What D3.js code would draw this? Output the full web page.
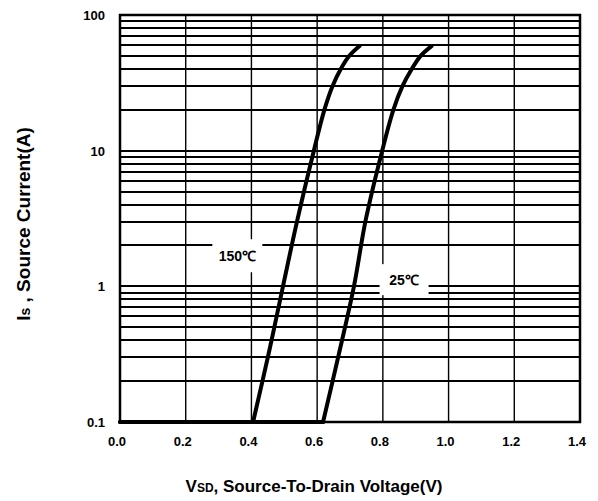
<!DOCTYPE html>
<html>
<head>
<meta charset="utf-8">
<script src="https://cdn.jsdelivr.net/npm/d3@7"></script>
<style>
  body { margin: 0; background: #fff; }
  text { font-family: Arial, "Liberation Sans", sans-serif; font-weight: bold; fill: #000; }
</style>
</head>
<body>
<div id="chart"></div>
<script>
// data
var xTicks = [0.0, 0.2, 0.4, 0.6, 0.8, 1.0, 1.2, 1.4];
var yTicks = [0.1, 1, 10, 100];

var v150 = [0.0, 0.405, 0.452, 0.496, 0.540, 0.590, 0.622, 0.647, 0.672, 0.698, 0.729];
var i150 = [0.1, 0.1, 0.316, 1, 3.1, 10, 20, 30, 40, 50, 59];

var v25 = [0.0, 0.618, 0.666, 0.712, 0.748, 0.798, 0.832, 0.860, 0.888, 0.915, 0.948];
var i25 = [0.1, 0.1, 0.316, 1, 3.1, 10, 20, 30, 40, 50, 59];

var svgWidth = 598;
var svgHeight = 501;

var margin = {
  top: 15,
  right: 18,
  bottom: 79,
  left: 120
};

var width = svgWidth - margin.left - margin.right;
var height = svgHeight - margin.top - margin.bottom;

var svg = d3
  .select("#chart")
  .append("svg")
  .attr("width", svgWidth)
  .attr("height", svgHeight);

var chartGroup = svg
  .append("g")
  .attr("transform", `translate(${margin.left}, ${margin.top})`);

// scales
var xLinearScale = d3.scaleLinear()
  .domain([0, 1.4])
  .range([0, width]);

var yLogScale = d3.scaleLog()
  .domain([0.1, 100])
  .range([height, 0]);

// horizontal grid (1..9 in each decade)
chartGroup.append("g")
  .selectAll("line")
  .data(yLogScale.ticks().filter(d => d > 0.1 && d < 100))
  .enter()
  .append("line")
  .attr("x1", 0)
  .attr("x2", width)
  .attr("y1", d => Math.round(yLogScale(d)))
  .attr("y2", d => Math.round(yLogScale(d)))
  .attr("stroke", "#000")
  .attr("stroke-width", 2);

// vertical grid
chartGroup.append("g")
  .selectAll("line")
  .data(xTicks.filter(d => d > 0 && d < 1.4))
  .enter()
  .append("line")
  .attr("x1", d => xLinearScale(d))
  .attr("x2", d => xLinearScale(d))
  .attr("y1", 0)
  .attr("y2", height)
  .attr("stroke", "#000")
  .attr("stroke-width", 1.4);

// frame
chartGroup.append("rect")
  .attr("width", width)
  .attr("height", height)
  .attr("fill", "none")
  .attr("stroke", "#000")
  .attr("stroke-width", 2.5);

// tick labels
chartGroup.append("g")
  .selectAll("text")
  .data(xTicks)
  .enter()
  .append("text")
  .attr("x", d => xLinearScale(d) - 3)
  .attr("y", height + 24)
  .attr("text-anchor", "middle")
  .attr("font-size", "13px")
  .text(d => d3.format(".1f")(d));

chartGroup.append("g")
  .selectAll("text")
  .data(yTicks)
  .enter()
  .append("text")
  .attr("x", -15)
  .attr("y", d => yLogScale(d) + 5)
  .attr("text-anchor", "end")
  .attr("font-size", "13px")
  .text(d => d);

// temperature labels on white boxes
function curveLabel(xv, yv, w, h, label) {
  var g = chartGroup.append("g")
    .attr("transform", `translate(${xLinearScale(xv)}, ${yLogScale(yv)})`);
  g.append("rect")
    .attr("x", 0)
    .attr("y", -h / 2)
    .attr("width", w)
    .attr("height", h)
    .attr("fill", "#fff");
  g.append("text")
    .attr("x", w / 2)
    .attr("y", 5)
    .attr("text-anchor", "middle")
    .attr("font-size", "14px")
    .text(label);
}
curveLabel(0.281, 1.68, 50, 33, "150\u2103");
curveLabel(0.790, 1.12, 49, 31, "25\u2103");

// curves: flat part at 0.1 A, then a smooth rise
var flatLine = d3.line()
  .x(d => xLinearScale(d[0]))
  .y(d => yLogScale(d[1]));

var riseLine = d3.line()
  .x(d => xLinearScale(d[0]))
  .y(d => yLogScale(d[1]))
  .curve(d3.curveCatmullRom.alpha(0.5));

[[v150, i150], [v25, i25]].forEach(function(s) {
  var pts = d3.zip(s[0], s[1]);
  [flatLine(pts.slice(0, 2)), riseLine(pts.slice(1))].forEach(function(d) {
    chartGroup.append("path")
      .attr("d", d)
      .attr("fill", "none")
      .attr("stroke", "#000")
      .attr("stroke-width", 4)
      .attr("stroke-linejoin", "round")
      .attr("stroke-linecap", "round");
  });
});

// axis titles
var xTitle = svg.append("text")
  .attr("x", 314)
  .attr("y", 492)
  .attr("text-anchor", "middle")
  .attr("font-size", "17px");
xTitle.append("tspan").text("V");
xTitle.append("tspan").attr("font-size", "12px").text("SD");
xTitle.append("tspan").text(", Source-To-Drain Voltage(V)");

var yTitle = svg.append("text")
  .attr("transform", "translate(30, 224) rotate(-90)")
  .attr("text-anchor", "middle")
  .attr("font-size", "19px");
yTitle.append("tspan").text("I");
yTitle.append("tspan").attr("font-size", "14px").text("s");
yTitle.append("tspan").text(" , Source Current(A)");
</script>
</body>
</html>
